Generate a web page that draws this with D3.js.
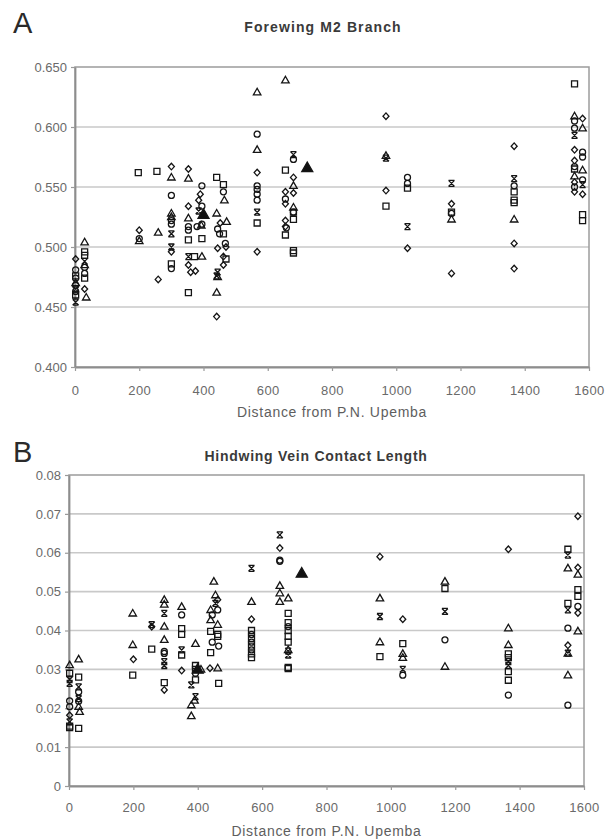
<!DOCTYPE html>
<html lang="en">
<head>
<meta charset="UTF-8">
<script src="https://d3js.org/d3.v7.min.js"></script>
<style>
  body { margin: 0; background: #fff; }
  svg text { font-family: "Liberation Sans", Arial, sans-serif; }
</style>
</head>
<body>
<div id="chart"></div>
<script>
// tick values
const xTicks = [0, 200, 400, 600, 800, 1000, 1200, 1400, 1600];
const aYTicks = [0.400, 0.450, 0.500, 0.550, 0.600, 0.650];
const bYTicks = [0, 0.01, 0.02, 0.03, 0.04, 0.05, 0.06, 0.07, 0.08];

// Panel A : Forewing M2 Branch  [distance, value]
const aDiamond = [
  [2,0.490],[30,0.465],[200,0.514],[259,0.473],[300,0.567],[300,0.496],
  [353,0.565],[353,0.534],[353,0.485],[360,0.479],[375,0.480],[390,0.544],[385,0.539],
  [452,0.520],[470,0.500],[444,0.499],[462,0.492],[462,0.485],[441,0.442],
  [567,0.562],[567,0.496],[680,0.558],[655,0.546],[680,0.545],[655,0.536],[655,0.522],[655,0.517],
  [968,0.609],[968,0.547],[1035,0.499],[1172,0.536],[1172,0.478],[1367,0.584],[1367,0.503],[1367,0.482],
  [1580,0.607],[1555,0.581],[1555,0.572],[1555,0.554],[1555,0.546],[1580,0.544]
];
const aSquare = [
  [30,0.496],[30,0.493],[30,0.474],[2,0.460],[2,0.476],[197,0.562],[255,0.563],[300,0.486],
  [353,0.506],[353,0.462],[372,0.492],[395,0.507],[441,0.558],[462,0.552],[470,0.490],[462,0.511],
  [567,0.520],[655,0.564],[680,0.529],[680,0.523],[655,0.510],[680,0.497],[680,0.495],
  [968,0.534],[1035,0.549],[1172,0.529],[1367,0.546],[1367,0.539],[1367,0.537],
  [1555,0.636],[1555,0.565],[1580,0.527],[1580,0.522]
];
const aTriangle = [
  [30,0.504],[30,0.485],[35,0.458],[2,0.470],[200,0.505],[259,0.512],[300,0.558],[300,0.528],[300,0.525],
  [353,0.557],[353,0.524],[395,0.492],[393,0.518],[465,0.539],[441,0.528],[472,0.521],[441,0.462],[444,0.475],
  [567,0.629],[567,0.581],[655,0.639],[680,0.551],[680,0.533],[968,0.576],[1172,0.523],[1367,0.523],
  [1555,0.609],[1580,0.599],[1580,0.564],[1555,0.559]
];
const aCircle = [
  [2,0.481],[2,0.474],[2,0.468],[2,0.463],[30,0.483],[30,0.478],[200,0.507],[300,0.543],[300,0.522],[300,0.519],[300,0.482],
  [353,0.517],[353,0.514],[395,0.551],[395,0.534],[380,0.517],[395,0.519],[462,0.546],[444,0.515],[450,0.511],[468,0.503],
  [567,0.594],[567,0.551],[567,0.548],[567,0.544],[567,0.539],[680,0.573],[655,0.540],[680,0.529],[658,0.516],
  [1035,0.558],[1035,0.553],[1172,0.528],[1367,0.551],[1555,0.605],[1555,0.599],[1580,0.579],[1580,0.575],
  [1555,0.567],[1580,0.556],[1555,0.550]
];
const aCross = [
  [2,0.465],[2,0.454],[30,0.488],[300,0.511],[300,0.500],[353,0.492],[385,0.530],[444,0.479],[441,0.476],
  [567,0.529],[680,0.577],[968,0.574],[1035,0.517],[1172,0.553],[1367,0.557],[1555,0.593],[1580,0.552]
];
const aFilled = [[400,0.527],[723,0.566]];

// Panel B : Hindwing Vein Contact Length
const bDiamond = [
  [2,0.0182],[200,0.0326],[257,0.0410],[296,0.0247],[350,0.0297],[438,0.0303],[462,0.0479],
  [567,0.0429],[655,0.0612],[966,0.0590],[1037,0.0429],[1365,0.0609],[1581,0.0694],[1581,0.0562],
  [1581,0.0445],[1550,0.0362]
];
const bSquare = [
  [2,0.0290],[2,0.0154],[2,0.0150],[30,0.0280],[30,0.0148],[198,0.0285],[257,0.0352],[296,0.0266],
  [350,0.0405],[350,0.0390],[350,0.0337],[393,0.0310],[393,0.0300],[393,0.0273],[440,0.0398],[462,0.0390],
  [462,0.0385],[440,0.0343],[465,0.0264],[567,0.0400],[567,0.0380],[567,0.0360],[567,0.0340],[567,0.0330],
  [681,0.0444],[681,0.0420],[681,0.0400],[681,0.0385],[681,0.0370],[681,0.0305],[681,0.0302],
  [966,0.0333],[1037,0.0366],[1168,0.0508],[1365,0.0340],[1365,0.0330],[1365,0.0294],[1365,0.0272],
  [1550,0.0609],[1581,0.0505],[1581,0.0488],[1550,0.0470]
];
const bTriangle = [
  [2,0.0311],[30,0.0326],[30,0.0204],[33,0.0191],[198,0.0444],[198,0.0363],[296,0.0479],[296,0.0467],
  [296,0.0410],[296,0.0376],[350,0.0461],[393,0.0366],[390,0.0220],[380,0.0208],[380,0.0180],[410,0.0300],
  [450,0.0526],[455,0.0491],[440,0.0453],[440,0.0427],[462,0.0415],[462,0.0303],
  [567,0.0474],[655,0.0515],[655,0.0496],[655,0.0474],[681,0.0483],[681,0.0350],
  [966,0.0483],[966,0.0370],[1037,0.0340],[1037,0.0330],[1168,0.0526],[1168,0.0307],[1365,0.0406],[1365,0.0363],
  [1550,0.0560],[1581,0.0544],[1581,0.0398],[1550,0.0341],[1550,0.0285]
];
const bCircle = [
  [2,0.0219],[2,0.0204],[30,0.0242],[30,0.0218],[296,0.0346],[296,0.0341],[350,0.0440],[393,0.0290],
  [462,0.0453],[445,0.0440],[445,0.0370],[465,0.0360],[567,0.0390],[567,0.0370],[567,0.0350],
  [655,0.0581],[655,0.0578],[681,0.0410],[1037,0.0285],[1168,0.0376],[1365,0.0234],
  [1581,0.0462],[1550,0.0406],[1550,0.0208]
];
const bCross = [
  [2,0.0274],[2,0.0264],[2,0.0165],[30,0.0255],[30,0.0225],[257,0.0415],[296,0.0444],[296,0.0320],[296,0.0310],
  [350,0.0350],[380,0.0260],[393,0.0230],[455,0.0470],[567,0.0560],[655,0.0646],[681,0.0347],[681,0.0337],
  [966,0.0436],[1037,0.0300],[1168,0.0449],[1365,0.0310],[1365,0.0320],[1550,0.0594],[1550,0.0453],[1550,0.0342]
];
const bFilled = [[400,0.0300],[723,0.0547]];

// marker shapes, size = width in px
const shapes = {
  diamond: { draw(c, s) { const r = s / 2; c.moveTo(0, -r * 1.1); c.lineTo(r, 0); c.lineTo(0, r * 1.1); c.lineTo(-r, 0); c.closePath(); } },
  square: { draw(c, s) { const r = s / 2; c.rect(-r, -r, s, s); } },
  triangle: { draw(c, s) { const r = s / 2, h = s * 0.87; c.moveTo(0, -h * 0.6); c.lineTo(r, h * 0.4); c.lineTo(-r, h * 0.4); c.closePath(); } },
  circle: { draw(c, s) { const r = s / 2; c.moveTo(r, 0); c.arc(0, 0, r, 0, 2 * Math.PI); } },
  cross: { draw(c, s) {
    const r = s / 2;
    c.moveTo(-r, -r); c.lineTo(r, r); c.moveTo(r, -r); c.lineTo(-r, r);
    c.moveTo(-r, -r); c.lineTo(r, -r); c.moveTo(-r, r); c.lineTo(r, r);
  } }
};

const svg = d3.select("#chart").append("svg")
  .attr("width", 612)
  .attr("height", 839);

function drawPanel(p) {
  const g = svg.append("g");
  const x = d3.scaleLinear().domain([0, 1600]).range([p.left, p.right]);
  const y = d3.scaleLinear().domain(p.yDomain).range([p.bottom, p.top]);

  // horizontal gridlines
  g.append("g").selectAll("line")
    .data(p.yTicks.slice(1, -1))
    .join("line")
      .attr("x1", p.left).attr("x2", p.right)
      .attr("y1", d => y(d)).attr("y2", d => y(d))
      .attr("stroke", "#c9c9c9")
      .attr("stroke-width", 1.6);

  // plot frame
  g.append("rect")
    .attr("x", p.left).attr("y", p.top)
    .attr("width", p.right - p.left).attr("height", p.bottom - p.top)
    .attr("fill", "none")
    .attr("stroke", "#9c9c9c")
    .attr("stroke-width", 1.5);

  const yAxis = g.append("g")
    .attr("transform", `translate(${p.left},0)`)
    .call(d3.axisLeft(y).tickValues(p.yTicks).tickFormat(p.fmt).tickSizeInner(4).tickSizeOuter(0).tickPadding(4));
  const xAxis = g.append("g")
    .attr("transform", `translate(0,${p.bottom})`)
    .call(d3.axisBottom(x).tickValues(xTicks).tickFormat(d3.format("d")).tickSizeInner(4).tickSizeOuter(0).tickPadding(p.xPad));

  [yAxis, xAxis].forEach(a => {
    a.attr("font-size", 13).attr("font-family", "'Liberation Sans', Arial, sans-serif");
    a.select(".domain").attr("stroke", "#8d8d8d").attr("stroke-width", 1.8);
    a.selectAll(".tick line").attr("stroke", "#9a9a9a").attr("stroke-width", 1.2);
    a.selectAll(".tick text").attr("fill", "#6a6a6a");
  });
  xAxis.selectAll(".tick text").style("letter-spacing", "0.4px");

  // markers
  p.series.forEach(s => {
    g.append("g").selectAll("path")
      .data(s.pts)
      .join("path")
        .attr("transform", d => `translate(${x(d[0])},${y(d[1])})`)
        .attr("d", d3.symbol().type(shapes[s.shape]).size(s.size))
        .attr("fill", s.filled ? "#111" : "none")
        .attr("stroke", "#151515")
        .attr("stroke-width", 1.3);
  });

  // panel letter
  g.append("text")
    .attr("x", 13).attr("y", p.letterY)
    .attr("font-size", 29)
    .attr("fill", "#2a2a2a")
    .text(p.letter);

  // title
  g.append("text")
    .attr("x", p.titleX).attr("y", p.titleY)
    .attr("text-anchor", "middle")
    .attr("font-size", 14)
    .attr("font-weight", "bold")
    .attr("fill", "#3a3a3a")
    .style("letter-spacing", p.titleSpacing)
    .text(p.title);

  // x axis title
  g.append("text")
    .attr("x", (p.left + p.right) / 2).attr("y", p.xTitleY)
    .attr("text-anchor", "middle")
    .attr("font-size", 14)
    .attr("fill", "#5e5e5e")
    .style("letter-spacing", "0.7px")
    .text("Distance from P.N. Upemba");
}

drawPanel({
  left: 75, right: 589, top: 67, bottom: 367,
  yDomain: [0.4, 0.65], yTicks: aYTicks, fmt: d3.format(".3f"), xPad: 15,
  letter: "A", letterY: 33,
  title: "Forewing M2 Branch", titleX: 323, titleY: 32, titleSpacing: "1.1px",
  xTitleY: 417,
  series: [
    { shape: "diamond", pts: aDiamond, size: 6 },
    { shape: "square", pts: aSquare, size: 6 },
    { shape: "triangle", pts: aTriangle, size: 7.5 },
    { shape: "cross", pts: aCross, size: 6 },
    { shape: "circle", pts: aCircle, size: 6 },
    { shape: "triangle", pts: aFilled, size: 11, filled: true }
  ]
});

drawPanel({
  left: 69, right: 584, top: 475, bottom: 786,
  yDomain: [0, 0.08], yTicks: bYTicks, fmt: d => d === 0 ? "0" : d3.format(".2f")(d), xPad: 13,
  letter: "B", letterY: 462,
  title: "Hindwing Vein Contact Length", titleX: 316, titleY: 461, titleSpacing: "0.75px",
  xTitleY: 836,
  series: [
    { shape: "diamond", pts: bDiamond, size: 6 },
    { shape: "square", pts: bSquare, size: 6 },
    { shape: "triangle", pts: bTriangle, size: 7.5 },
    { shape: "cross", pts: bCross, size: 6 },
    { shape: "circle", pts: bCircle, size: 6 },
    { shape: "triangle", pts: bFilled, size: 11, filled: true }
  ]
});
</script>
</body>
</html>
